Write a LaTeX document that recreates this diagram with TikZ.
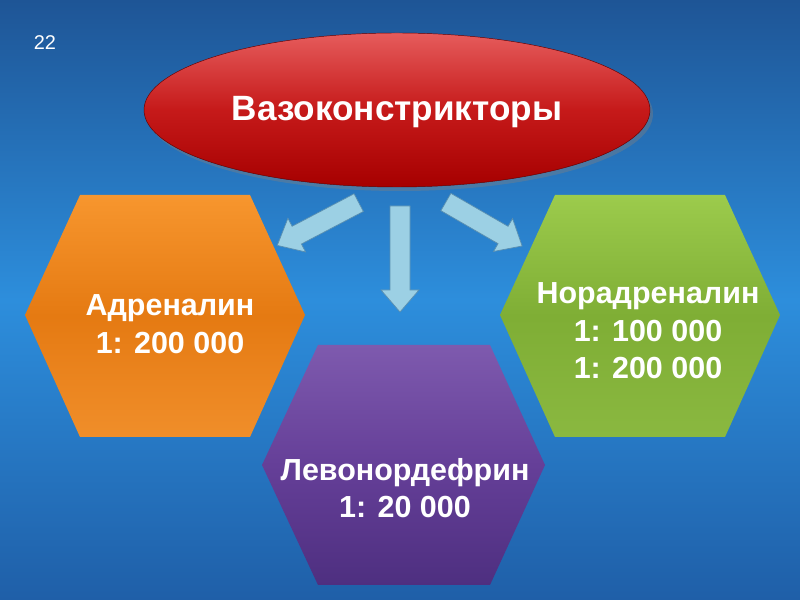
\documentclass[tikz,border=0pt]{standalone}
\usepackage{fontspec}
\setmainfont{Liberation Sans}
\definecolor{bgtop}{HTML}{1E5596}
\definecolor{bgmid}{HTML}{2D8EDC}
\definecolor{bgbot}{HTML}{1F5FA8}
\definecolor{arr}{HTML}{9CD0E4}
\definecolor{arrd}{HTML}{5A8FB0}
\definecolor{putop}{HTML}{7E5AAE}
\definecolor{pumid}{HTML}{653F98}
\definecolor{pubot}{HTML}{4E2F80}
\definecolor{grtop}{HTML}{9CCB4C}
\definecolor{grmid}{HTML}{7FAE35}
\definecolor{grbot}{HTML}{8AB840}
\definecolor{ortop}{HTML}{F7962E}
\definecolor{ormid}{HTML}{E57A12}
\definecolor{orbot}{HTML}{F08E2A}
\tikzset{
  lbl/.style={text=white,font=\bfseries\fontsize{26}{30}\selectfont,align=center},
  hexs/.style={line width=0.5pt},
  barrow/.style={fill=arr,draw=arrd,line width=0.6pt}
}
\newcommand{\blockarrow}[4]{% x,y (mid), angle, half length
  \begin{scope}[shift={(#1,#2)},rotate=#3]
    \path[barrow] (-#4,-10)--(#4-22,-10)--(#4-22,-19)--(#4,0)--(#4-22,19)--(#4-22,10)--(-#4,10)--cycle;
  \end{scope}}
\begin{document}
\begin{tikzpicture}[x=0.03cm,y=-0.03cm]
\useasboundingbox (0,0) rectangle (800,600);
\shade[top color=bgtop,bottom color=bgmid] (0,0) rectangle (800,300);
\shade[top color=bgmid,bottom color=bgbot] (0,300) rectangle (800,600);
\node[text=white,font=\fontsize{17}{20}\selectfont] (num) at (45,43) {22};
% ellipse
\fill[black!50,opacity=0.4] (400,114) ellipse [x radius=253,y radius=77];
\shade[top color=red!60!white!90!black,bottom color=red!65!black,middle color=red!75!black!90!white,draw=red!40!black] (397,110) ellipse [x radius=253,y radius=77];
\node[lbl,font=\bfseries\fontsize{30}{34}\selectfont] (title) at (397,112) {Вазоконстрикторы};
% hexagons
\shade[hexs,top color=ortop,bottom color=orbot,middle color=ormid] (25,315)--(80,195)--(250,195)--(305,315)--(250,437)--(80,437)--cycle;
\shade[hexs,top color=grtop,bottom color=grbot,middle color=grmid] (500,315)--(555,195)--(725,195)--(780,315)--(725,437)--(555,437)--cycle;
\shade[hexs,top color=putop,bottom color=pubot,middle color=pumid] (262,465)--(318,345)--(490,345)--(545,465)--(490,585)--(318,585)--cycle;
\node[lbl] (adr) at (170,324) {Адреналин\\[2pt]1: 200 000};
\node[lbl] (nor) at (648,331) {Норадреналин\\[2pt]1: 100 000\\[2pt]1: 200 000};
\node[lbl] (lev) at (405,488) {Левонордефрин\\[2pt]1: 20 000};
% arrows
\blockarrow{400}{259}{-90}{53}
\blockarrow{318}{224}{207.7}{46}
\blockarrow{484}{224}{-30}{44}
\end{tikzpicture}
\end{document}
